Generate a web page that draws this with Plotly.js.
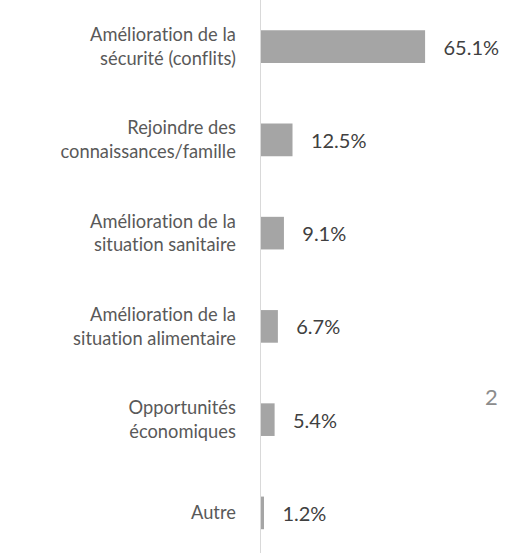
<!DOCTYPE html>
<html>
<head>
<meta charset="utf-8">
<script src="https://cdn.plot.ly/plotly-3.0.1.min.js"></script>
<style>html,body{margin:0;padding:0;background:#fff;}#chart{width:506px;height:553px;}
svg text{font-variant-ligatures:none;font-feature-settings:"liga" 0,"clig" 0;}</style>
</head>
<body>
<div id="chart"></div>
<script>
const categories = [
  "Amélioration de la<br>sécurité (conflits)",
  "Rejoindre des<br>connaissances/famille",
  "Amélioration de la<br>situation sanitaire",
  "Amélioration de la<br>situation alimentaire",
  "Opportunités<br>économiques",
  "Autre"
];
const values = [65.1, 12.5, 9.1, 6.7, 5.4, 1.2];
const labels = values.map(v => "\u00a0\u00a0\u00a0" + v.toFixed(1) + "%");

const FONT = "Lato, 'Open Sans', sans-serif";
const trace = {
  type: "bar",
  orientation: "h",
  x: values,
  y: categories,
  marker: {color: "#a5a5a5"},
  width: 0.35,
  text: labels,
  textposition: "outside",
  cliponaxis: false,
  textfont: {family: FONT, size: 20, color: "#404040"},
  hoverinfo: "none"
};
const layout = {
  width: 506, height: 553,
  margin: {l: 261, r: 0, t: 0, b: 0, pad: 0},
  paper_bgcolor: "#fff", plot_bgcolor: "#fff",
  showlegend: false,
  font: {family: FONT, size: 18, color: "#595959"},
  xaxis: {range: [0, 97.2], visible: false, fixedrange: true},
  yaxis: {
    type: "category",
    range: [5.43, -0.5],
    autorange: false,
    showline: true, linecolor: "#d9d9d9", linewidth: 1.5,
    showgrid: false, zeroline: false,
    ticks: "", ticklabelstandoff: 20,
    tickfont: {family: FONT, size: 18.3, color: "#595959"}
  },
  annotations: [{
    text: "2", xref: "paper", yref: "paper", x: 0.976, y: 0.255,
    showarrow: false, font: {family: FONT, size: 22, color: "#8c8c8c"}
  }]
};
Plotly.newPlot("chart", [trace], layout, {staticPlot: true, displayModeBar: false});
</script>
</body>
</html>
